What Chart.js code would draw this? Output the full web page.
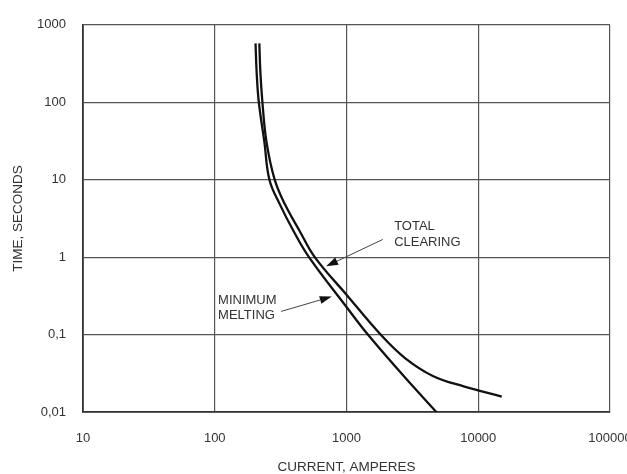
<!DOCTYPE html>
<html>
<head>
<meta charset="utf-8">
<script src="https://cdn.jsdelivr.net/npm/chart.js@4.4.0/dist/chart.umd.min.js"></script>
<style>
  html, body { margin: 0; padding: 0; background: #fff; }
  #wrap { width: 627px; height: 474px; }
</style>
</head>
<body>
<div id="wrap"><canvas id="fuse"></canvas></div>
<script>
// values (current in A, time in s)
var minMeltCurrent = [204, 208, 216, 238, 260, 312, 397, 519, 1000, 1452, 2655, 4860];
var minMeltTime = [576, 243, 100, 30.8, 10, 4.8, 2.16, 1, 0.227, 0.1, 0.0305, 0.0098];

var totalClearCurrent = [218, 222, 230, 247, 285, 341, 442, 574, 1000, 1837, 2780, 4520, 7760, 15070];
var totalClearTime = [576, 243, 100, 30.8, 10, 4.8, 2.16, 1, 0.327, 0.0977, 0.0497, 0.0292, 0.0214, 0.0158];

var xTicks = [10, 100, 1000, 10000, 100000];
var xTickLabels = ['10', '100', '1000', '10000', '100000'];
var yTicks = [0.01, 0.1, 1, 10, 100, 1000];
var yTickLabels = ['0,01', '0,1', '1', '10', '100', '1000'];

// labels with their arrows, in data units
var notes = [
	{ lines: ['TOTAL', 'CLEARING'], x: 2300, y: [2.5, 1.53], from: [1884, 1.69], to: [700, 0.76] },
	{ lines: ['MINIMUM', 'MELTING'], x: 106, y: [0.275, 0.175], from: [319, 0.199], to: [773, 0.309] }
];

function toPoints(xs, ys) {
	var pts = [];
	for (var i in xs) {
		pts.push({ x: xs[i], y: ys[i] });
	}
	return pts;
}

var FONT = '"Liberation Sans", Arial, sans-serif';

var notePlugin = {
	id: 'notes',
	afterDraw: function(chart) {
		var ctx = chart.ctx;
		var sx = chart.scales.x, sy = chart.scales.y;
		ctx.save();
		ctx.font = '13px ' + FONT;
		ctx.textBaseline = 'middle';
		ctx.textAlign = 'left';
		notes.forEach(function(n) {
			var px = sx.getPixelForValue(n.x);
			ctx.fillStyle = '#333';
			n.lines.forEach(function(t, i) {
				ctx.fillText(t, px, sy.getPixelForValue(n.y[i]));
			});
			var x0 = sx.getPixelForValue(n.from[0]), y0 = sy.getPixelForValue(n.from[1]);
			var x1 = sx.getPixelForValue(n.to[0]), y1 = sy.getPixelForValue(n.to[1]);
			var a = Math.atan2(y1 - y0, x1 - x0);
			var len = 12, half = 4;
			var bx = x1 - len * Math.cos(a), by = y1 - len * Math.sin(a);
			ctx.strokeStyle = '#444';
			ctx.lineWidth = 1;
			ctx.beginPath();
			ctx.moveTo(x0, y0);
			ctx.lineTo(bx, by);
			ctx.stroke();
			ctx.fillStyle = '#111';
			ctx.beginPath();
			ctx.moveTo(x1, y1);
			ctx.lineTo(bx + half * Math.sin(a), by - half * Math.cos(a));
			ctx.lineTo(bx - half * Math.sin(a), by + half * Math.cos(a));
			ctx.closePath();
			ctx.fill();
		});
		ctx.restore();
	}
};

var ctx = document.getElementById('fuse');

var fuseChart = new Chart(ctx, {
	type: 'scatter',
	data: {
		datasets: [
			{
				label: 'Minimum melting',
				data: toPoints(minMeltCurrent, minMeltTime),
				showLine: true,
				borderColor: '#111',
				borderWidth: 2.3,
				pointRadius: 0,
				tension: 0.4
			},
			{
				label: 'Total clearing',
				data: toPoints(totalClearCurrent, totalClearTime),
				showLine: true,
				borderColor: '#111',
				borderWidth: 2.3,
				pointRadius: 0,
				tension: 0.4
			}
		]
	},
	options: {
		responsive: true,
		maintainAspectRatio: false,
		animation: false,
		layout: { padding: { top: 22, right: 0, left: 0, bottom: 0 } },
		plugins: {
			legend: { display: false },
			tooltip: { enabled: false }
		},
		scales: {
			x: {
				type: 'logarithmic',
				min: 10,
				max: 100000,
				afterBuildTicks: function(scale) {
					scale.ticks = xTicks.map(function(v) { return { value: v }; });
				},
				afterFit: function(scale) {
					scale.height = 62;
					scale.paddingLeft = 0;
					scale.paddingRight = 17;
				},
				ticks: {
					autoSkip: false,
					maxRotation: 0,
					padding: 19,
					color: '#333',
					font: { family: FONT, size: 13 },
					callback: function(v, i) { return xTickLabels[i]; }
				},
				grid: { color: '#555', lineWidth: 1.2, drawTicks: false },
				border: { color: '#333', width: 1.8 },
				title: {
					display: true,
					text: 'CURRENT, AMPERES',
					color: '#333',
					font: { family: FONT, size: 13.5, lineHeight: 1 },
					padding: { top: 0, bottom: 0 }
				}
			},
			y: {
				type: 'logarithmic',
				min: 0.01,
				max: 1000,
				afterBuildTicks: function(scale) {
					scale.ticks = yTicks.map(function(v) { return { value: v }; });
				},
				afterFit: function(scale) { scale.width = 83; },
				ticks: {
					autoSkip: false,
					padding: 17,
					color: '#333',
					font: { family: FONT, size: 13 },
					callback: function(v, i) { return yTickLabels[i]; }
				},
				grid: { color: '#555', lineWidth: 1.2, drawTicks: false },
				border: { color: '#333', width: 1.8 },
				title: {
					display: true,
					text: 'TIME, SECONDS',
					color: '#333',
					font: { family: FONT, size: 13.5, lineHeight: 1 },
					padding: { top: 12, bottom: 0 }
				}
			}
		}
	},
	plugins: [notePlugin]
});
</script>
</body>
</html>
